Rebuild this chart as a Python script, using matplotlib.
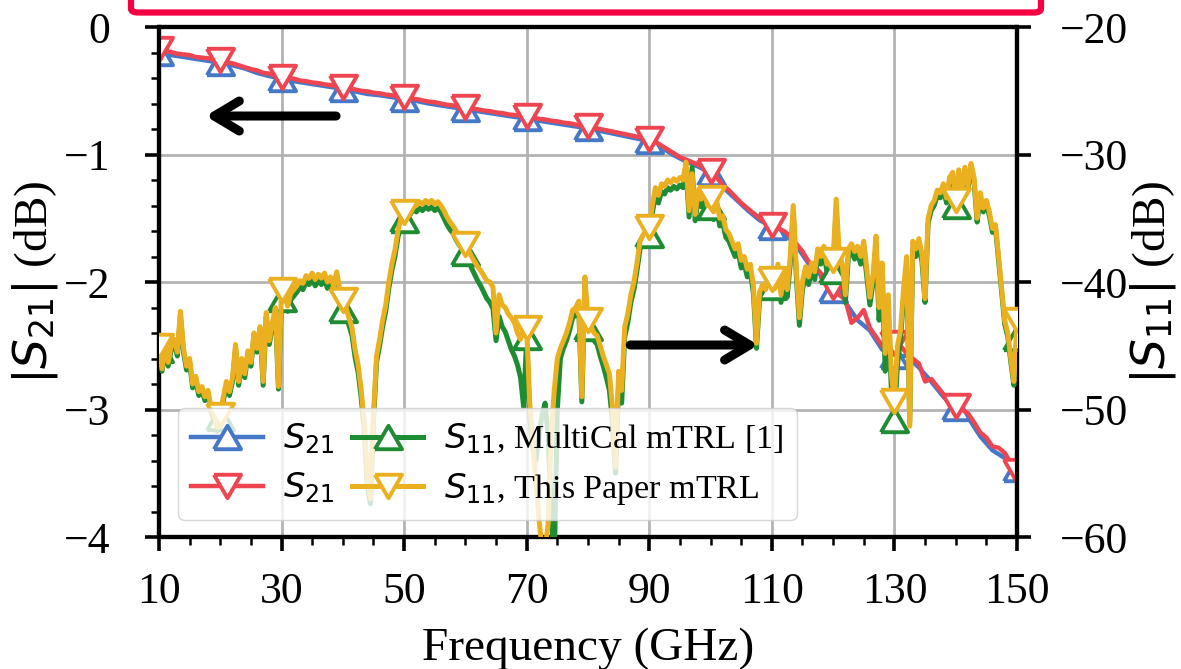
import numpy as np
import matplotlib
matplotlib.use("Agg")
import matplotlib.pyplot as plt
from matplotlib.ticker import MultipleLocator, FixedLocator
from matplotlib.patches import FancyBboxPatch

plt.rcParams['font.family'] = ['Liberation Serif', 'DejaVu Serif']
plt.rcParams['mathtext.fontset'] = 'dejavusans'

# ---------------- data ----------------
# S21 (left axis, dB), 1 GHz grid 10..150
f_s21 = np.arange(10, 151, 1.0)
s21_this = [
    -0.175, -0.19, -0.195, -0.21, -0.215, -0.22, -0.235, -0.24, -0.245, -0.255,
    -0.26, -0.275, -0.285, -0.30, -0.315, -0.33, -0.34, -0.36, -0.365, -0.38,
    -0.39, -0.40, -0.405, -0.42, -0.425, -0.435, -0.44, -0.45, -0.455, -0.465,
    -0.47, -0.48, -0.49, -0.50, -0.505, -0.515, -0.52, -0.53, -0.535, -0.545,
    -0.55, -0.56, -0.565, -0.575, -0.585, -0.59, -0.60, -0.61, -0.615, -0.625,
    -0.63, -0.64, -0.645, -0.655, -0.66, -0.67, -0.675, -0.685, -0.69, -0.695,
    -0.70, -0.71, -0.72, -0.725, -0.735, -0.74, -0.75, -0.755, -0.765, -0.775,
    -0.78, -0.79, -0.80, -0.81, -0.82, -0.83, -0.84, -0.85, -0.86, -0.87,
    -0.88, -0.90, -0.93, -0.96, -0.99, -1.02, -1.04, -1.06, -1.08, -1.10,
    -1.13, -1.18, -1.24, -1.28, -1.33, -1.38, -1.42, -1.46, -1.50, -1.53,
    -1.55, -1.58, -1.60, -1.64, -1.70, -1.76, -1.84, -1.88, -1.93, -1.99,
    -2.04, -2.10, -2.14, -2.32, -2.28, -2.22, -2.36, -2.43, -2.50, -2.57,
    -2.48, -2.50, -2.56, -2.60, -2.64, -2.78, -2.76, -2.82, -2.88, -2.92,
    -2.97, -3.00, -3.03, -3.10, -3.18, -3.22, -3.29, -3.30, -3.34, -3.42, -3.48,
]
# S21 MultiCal, 2 GHz grid 10..150
f_s21_mc = np.arange(10, 151, 2.0)
s21_multical = [
    -0.20, -0.22, -0.235, -0.25, -0.265, -0.28, -0.30, -0.325, -0.36, -0.385,
    -0.405, -0.425, -0.44, -0.455, -0.47, -0.485, -0.505, -0.525, -0.535, -0.55,
    -0.565, -0.58, -0.60, -0.615, -0.63, -0.645, -0.66, -0.675, -0.69, -0.705,
    -0.715, -0.735, -0.75, -0.765, -0.78, -0.795, -0.815, -0.835, -0.855, -0.875,
    -0.895, -0.945, -1.005, -1.055, -1.095, -1.145, -1.255, -1.345, -1.435, -1.515,
    -1.565, -1.615, -1.715, -1.855, -1.945, -2.06, -2.16, -2.30, -2.38, -2.53,
    -2.58, -2.58, -2.67, -2.78, -2.90, -2.99, -3.06, -3.21, -3.32, -3.38, -3.47,
]

# S11 (right axis, dB), 0.5 GHz grid 10..150
f_s11 = np.arange(10, 150.01, 0.5)
s11_this = [
    -45.0, -46.8, -44.8, -46.3, -45.0, -44.5, -45.5, -42.3, -45.2, -46.6,
    -46.0, -48.0, -47.4, -48.6, -48.2, -49.0, -48.5, -49.8, -50.6, -51.4,
    -50.4, -49.0, -47.8, -48.6, -47.5, -44.9, -47.8, -46.0, -47.2, -45.4,
    -46.3, -44.0, -45.2, -43.5, -47.8, -42.4, -44.6, -43.2, -42.0, -48.2,
    -40.6, -41.0, -41.9, -40.9, -40.6, -40.3, -39.9, -40.1, -39.5, -39.7,
    -39.3, -39.8, -39.4, -39.7, -39.3, -40.0, -39.6, -40.3, -39.2, -40.6,
    -41.4, -42.0, -42.8, -43.6, -45.3, -46.5, -48.5, -51.0, -55.5, -57.0,
    -50.5, -45.8, -44.5, -43.0, -41.8, -40.0, -38.6, -37.5, -36.0, -35.0,
    -34.5, -34.0, -34.2, -33.8, -34.0, -33.7, -33.9, -33.6, -33.8, -33.6,
    -33.9, -33.7, -34.0, -34.4, -34.9, -35.3, -35.6, -36.0, -36.4, -36.7,
    -37.0, -37.5, -38.0, -38.4, -38.8, -39.1, -39.5, -39.9, -40.0, -40.4,
    -44.0, -41.0, -41.8, -42.0, -42.5, -42.8, -43.2, -44.0, -44.5, -43.5,
    -43.6, -49.5, -52.5, -55.5, -58.5, -61.0, -61.0, -59.0, -52.0, -48.5,
    -46.0, -45.2, -44.6, -44.0, -43.2, -42.2, -42.0, -41.5, -49.0, -39.6,
    -43.0, -43.5, -44.0, -44.2, -45.0, -45.8, -46.5, -47.2, -49.8, -54.5,
    -47.0, -48.5, -43.5, -42.5, -41.0, -40.0, -38.5, -36.8, -36.3, -36.0,
    -35.7, -34.0, -32.6, -33.2, -32.3, -32.5, -32.0, -32.2, -31.9, -32.1,
    -31.8, -32.0, -30.6, -34.4, -31.5, -34.7, -32.8, -33.5, -32.6, -34.0,
    -33.4, -34.5, -33.6, -35.0, -34.8, -35.9, -36.2, -36.8, -37.4, -37.0,
    -38.3, -38.0, -39.0, -38.6, -40.3, -44.8, -40.8, -40.2, -40.6, -39.5,
    -39.8, -40.5, -38.6, -41.0, -39.0, -40.6, -38.0, -34.0, -39.0, -42.8,
    -40.0, -38.8, -39.6, -38.5, -39.2, -37.4, -38.0, -37.2, -38.6, -38.0,
    -38.3, -33.5, -37.8, -38.6, -41.0, -37.4, -37.0, -37.6, -37.2, -38.0,
    -36.8, -39.0, -41.2, -39.5, -36.4, -42.0, -38.5, -45.6, -41.0, -47.2,
    -49.3, -45.0, -43.8, -40.5, -38.0, -51.3, -36.8, -37.4, -36.6, -37.8,
    -41.3, -35.0, -34.0, -33.6, -32.8, -33.0, -32.3, -33.4, -31.8, -31.4,
    -33.6, -31.2, -32.8, -31.0, -32.5, -30.7, -31.8, -35.0, -33.0, -34.2,
    -33.6, -34.5, -35.8, -35.5, -38.0, -40.5, -43.0, -44.0, -46.0, -47.8,
    -43.0,
]
s11_multical = [
    -45.3, -47.0, -45.1, -46.6, -45.3, -44.8, -45.8, -42.6, -45.5, -46.9,
    -46.3, -48.3, -47.7, -48.9, -48.5, -49.3, -48.8, -50.1, -50.9, -51.7,
    -50.7, -49.3, -48.1, -48.9, -47.8, -45.2, -48.1, -46.3, -47.5, -45.7,
    -46.6, -44.3, -45.5, -43.8, -48.1, -42.7, -44.9, -43.5, -42.4, -48.4,
    -41.3, -41.5, -42.3, -41.4, -41.1, -40.8, -40.4, -40.6, -40.0, -40.2,
    -39.8, -40.3, -39.9, -40.2, -39.8, -40.5, -40.1, -40.8, -39.7, -41.2,
    -42.2, -42.6, -43.4, -44.2, -45.9, -47.1, -49.1, -51.6, -56.0, -57.4,
    -51.0, -46.3, -45.0, -43.5, -42.3, -40.5, -39.1, -38.0, -36.5, -35.5,
    -35.1, -34.5, -34.7, -34.3, -34.5, -34.2, -34.4, -34.1, -34.3, -34.1,
    -34.4, -34.2, -34.5, -35.0, -35.5, -35.9, -36.2, -36.7, -37.1, -37.4,
    -37.7, -38.3, -38.9, -39.4, -39.9, -40.3, -40.8, -41.3, -41.6, -42.1,
    -44.6, -42.7, -43.5, -43.9, -44.6, -45.3, -45.8, -46.5, -47.5, -49.8,
    -44.3, -50.5, -53.0, -54.0, -52.0, -50.5, -49.5, -52.0, -58.0, -62.0,
    -50.0, -46.0, -45.2, -44.6, -43.8, -42.8, -42.6, -42.1, -49.4, -40.2,
    -43.6, -44.1, -44.6, -44.9, -45.8, -46.6, -47.5, -48.5, -51.0, -55.0,
    -48.0, -49.5, -44.3, -43.2, -41.6, -40.6, -39.1, -37.4, -36.9, -36.6,
    -36.3, -34.6, -33.2, -33.8, -32.9, -33.1, -32.6, -32.8, -32.5, -32.7,
    -32.4, -32.6, -31.2, -34.9, -31.0, -35.2, -33.4, -34.1, -33.2, -34.6,
    -34.1, -35.1, -34.2, -35.6, -35.4, -36.5, -36.8, -37.4, -38.0, -37.6,
    -38.9, -38.6, -39.6, -39.2, -40.9, -45.2, -41.4, -40.8, -41.2, -40.1,
    -40.4, -41.1, -39.2, -41.6, -39.6, -41.2, -38.6, -34.6, -39.6, -43.4,
    -40.6, -39.4, -40.2, -39.1, -39.8, -38.0, -38.6, -37.8, -39.2, -38.6,
    -39.1, -34.2, -38.5, -39.2, -41.6, -38.0, -37.6, -38.2, -37.8, -38.6,
    -37.4, -39.6, -41.8, -40.1, -37.0, -43.0, -39.5, -47.0, -42.5, -48.4,
    -50.8, -46.5, -44.5, -41.2, -38.6, -51.0, -37.4, -38.0, -37.2, -38.4,
    -41.6, -35.4, -34.4, -34.0, -33.2, -33.4, -32.7, -33.8, -32.2, -31.8,
    -34.0, -31.5, -33.1, -31.3, -32.8, -31.0, -32.1, -35.3, -33.3, -34.5,
    -33.9, -34.8, -36.1, -35.8, -38.3, -40.8, -43.3, -44.3, -46.3, -48.1,
    -44.4,
]

x_ticks = [10, 30, 50, 70, 90, 110, 130, 150]
y_left_ticks = [0, -1, -2, -3, -4]
y_right_ticks = [-20, -30, -40, -50, -60]
labels = ['$S_{21}$', '$S_{21}$', '$S_{11}$, MultiCal mTRL [1]', '$S_{11}$, This Paper mTRL']

# ---------------- style ----------------
c_blue = '#4678C8'
c_red = '#EF4550'
c_green = '#1E8C32'
c_yellow = '#EBB020'

tri_up = [(-1, -0.866), (1, -0.866), (0, 0.866), (-1, -0.866)]
tri_dn = [(-1, 0.866), (1, 0.866), (0, -0.866), (-1, 0.866)]

fig = plt.figure(figsize=(11.81, 6.69), dpi=100)
ax1 = fig.add_axes([0.1346, 0.1973, 0.7265, 0.7623])
ax2 = ax1.twinx()

ms = 19.5
mew = 2.8
l_blue, = ax1.plot(f_s21_mc, s21_multical, color=c_blue, lw=3.2, marker=tri_up, ms=ms,
                   mfc='white', mec=c_blue, mew=mew, markevery=5, zorder=3)
l_red, = ax1.plot(f_s21, s21_this, color=c_red, lw=3.2, marker=tri_dn, ms=ms,
                  mfc='white', mec=c_red, mew=mew, markevery=10, zorder=4)
l_green, = ax2.plot(f_s11, s11_multical, color=c_green, lw=3.6, marker=tri_up, ms=ms,
                    mfc='white', mec=c_green, mew=mew, markevery=20, zorder=3)
l_yellow, = ax2.plot(f_s11, s11_this, color=c_yellow, lw=3.6, marker=tri_dn, ms=ms,
                     mfc='white', mec=c_yellow, mew=mew, markevery=20, zorder=4)

ax1.set_xlim(10, 150)
ax1.set_ylim(-4, 0)
ax2.set_ylim(-60, -20)

ax1.xaxis.set_major_locator(FixedLocator(x_ticks))
ax1.xaxis.set_minor_locator(MultipleLocator(5))
ax1.yaxis.set_major_locator(FixedLocator(y_left_ticks))
ax1.yaxis.set_minor_locator(MultipleLocator(0.2))
ax2.yaxis.set_major_locator(FixedLocator(y_right_ticks))

fs_tick = 31.5
fs_lab = 34
for ax in (ax1, ax2):
    ax.tick_params(which='major', direction='out', length=10, width=2.6, labelsize=fs_tick)
    ax.tick_params(which='minor', direction='out', length=5.5, width=1.8)
    for sp in ax.spines.values():
        sp.set_linewidth(3.0)
        sp.set_color('black')
ax1.tick_params(axis='x', which='both', top=False, pad=15)
ax1.tick_params(axis='y', pad=25)
ax2.tick_params(axis='y', pad=21)

ax1.grid(True, which='major', color='#b3b3b3', lw=2.0)
ax1.set_axisbelow(True)

ax1.set_xlabel('Frequency (GHz)', fontsize=fs_lab, labelpad=11)
ax1.set_ylabel('$|S_{21}|$ (dB)', fontsize=fs_lab, labelpad=3)
ax2.set_ylabel('$|S_{11}|$ (dB)', fontsize=fs_lab, labelpad=0)

# arrows
ap = dict(arrowstyle='->,head_length=0.45,head_width=0.27', lw=6.5, color='black',
          mutation_scale=40, shrinkA=0, shrinkB=0, capstyle='round', joinstyle='round')
ax2.annotate('', xy=(17.6, -26.98), xytext=(38.9, -26.98), arrowprops=ap, zorder=6)
ax2.annotate('', xy=(107.8, -44.94), xytext=(86.9, -44.94), arrowprops=ap, zorder=6)

leg = ax2.legend([l_blue, l_red, l_green, l_yellow], labels, ncol=2, loc='lower left',
                 bbox_to_anchor=(0.022, 0.033), borderaxespad=0, fontsize=24.5,
                 columnspacing=0.5, handletextpad=0.6, handlelength=2.1,
                 labelspacing=0.42, framealpha=0.8, fancybox=True)
leg.set_zorder(10)

# red frame at top (partially outside the figure)
W, H = 1181, 669
box = FancyBboxPatch((131 / W, 1 - 12.5 / H), (1041 - 131) / W, 0.2,
                     boxstyle='round,pad=0,rounding_size=0.006',
                     transform=fig.transFigure, fill=False, edgecolor='#F50041',
                     lw=4.5, clip_on=False)
fig.patches.append(box)

fig.savefig('out.png', dpi=100)
